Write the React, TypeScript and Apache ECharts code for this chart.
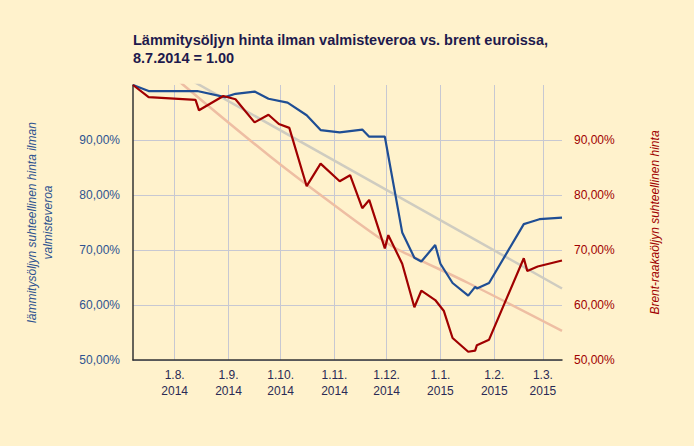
import React, { useEffect, useRef } from "react";
import * as echarts from "echarts";

const TITLE = "Lämmitysöljyn hinta ilman valmisteveroa vs. brent euroissa,\n8.7.2014 = 1.00";
const LEFT_NAME = "lämmitysöljyn suhteellinen hinta ilman\nvalmisteveroa";
const RIGHT_NAME = "Brent-raakaöljyn suhteellinen hinta";

const X_MIN = "2014-07-08";
const X_MAX = "2015-03-12";

const heatingDates = [
  "2014-07-08", "2014-07-17", "2014-08-14", "2014-08-30", "2014-09-05", "2014-09-16",
  "2014-09-24", "2014-10-05", "2014-10-16", "2014-10-24", "2014-11-04", "2014-11-17",
  "2014-11-21", "2014-11-30", "2014-12-10", "2014-12-17", "2014-12-21", "2014-12-29",
  "2015-01-01", "2015-01-08", "2015-01-17", "2015-01-21", "2015-01-22", "2015-01-29",
  "2015-02-18", "2015-02-21", "2015-02-27", "2015-03-12",
];
const heatingValues = [
  1.0, 0.989, 0.989, 0.978, 0.984, 0.988,
  0.975, 0.968, 0.945, 0.918, 0.914, 0.919,
  0.906, 0.906, 0.732, 0.686, 0.679, 0.709,
  0.675, 0.64, 0.617, 0.633, 0.63, 0.64,
  0.747, 0.75, 0.756, 0.759,
];

const brentDates = [
  "2014-07-08", "2014-07-17", "2014-08-13", "2014-08-15", "2014-08-29", "2014-09-05",
  "2014-09-16", "2014-09-24", "2014-09-30", "2014-10-06", "2014-10-16", "2014-10-24",
  "2014-11-04", "2014-11-10", "2014-11-17", "2014-11-21", "2014-11-30", "2014-12-02",
  "2014-12-10", "2014-12-17", "2014-12-21", "2014-12-29", "2015-01-03", "2015-01-08",
  "2015-01-17", "2015-01-21", "2015-01-22", "2015-01-29", "2015-02-18", "2015-02-20",
  "2015-02-26", "2015-03-12",
];
const brentValues = [
  1.0, 0.978, 0.973, 0.954, 0.98, 0.974,
  0.932, 0.946, 0.929, 0.922, 0.816, 0.857,
  0.825, 0.836, 0.776, 0.791, 0.703, 0.727,
  0.675, 0.596, 0.626, 0.609, 0.589, 0.54,
  0.515, 0.517, 0.527, 0.537, 0.685, 0.662,
  0.67, 0.681,
];

const heatingTrendDates = ["2014-07-08", "2015-03-12"];
const heatingTrendValues = [1.068, 0.63];

const brentTrendDates = [
  "2014-07-08", "2014-08-06", "2014-09-25", "2014-10-30", "2014-12-03", "2014-12-16",
  "2015-01-17", "2015-03-12",
];
const brentTrendValues = [1.08, 1.0, 0.87, 0.786, 0.709, 0.688, 0.64, 0.553];

const Y_TICKS_MIN = 0.5;
const Y_TICKS_MAX = 1.0;
const Y_INTERVAL = 0.1;

const FONT = "Liberation Sans, Arial, sans-serif";

function pairs(d: string[], v: number[]) {
  return d.map((x, i) => [x, v[i]]);
}

function pct(v: number) {
  return (v * 100).toFixed(2).replace(".", ",") + "%";
}

export default function App() {
  const ref = useRef<HTMLDivElement>(null);
  useEffect(() => {
    if (!ref.current) return;
    const chart = echarts.init(ref.current, undefined, { renderer: "svg" });
    chart.setOption({
      animation: false,
      backgroundColor: "#FFF2CC",
      textStyle: { fontFamily: FONT },
      title: {
        text: TITLE,
        left: 128,
        top: 26,
        textStyle: {
          fontFamily: FONT,
          fontSize: 14.5,
          fontWeight: "bold",
          color: "#1E1A4D",
          lineHeight: 18,
        },
      },
      grid: { left: 133, right: 132, top: 85, bottom: 86, containLabel: false },
      xAxis: {
        type: "time",
        min: X_MIN,
        max: X_MAX,
        splitNumber: 8,
        axisLine: { show: true, lineStyle: { color: "#333333", width: 1.5 } },
        axisTick: { show: false },
        splitLine: {
          show: true,
          showMinLine: false,
          showMaxLine: false,
          lineStyle: { color: "#C7C8D2", width: 1 },
        },
        axisLabel: {
          showMinLabel: false,
          showMaxLabel: false,
          margin: 7,
          color: "#2A2A55",
          fontSize: 12,
          lineHeight: 16,
          fontFamily: FONT,
          formatter: (val: number) => {
            const d = new Date(val);
            return d.getDate() + "." + (d.getMonth() + 1) + ".\n" + d.getFullYear();
          },
        },
      },
      yAxis: [
        {
          type: "value",
          min: Y_TICKS_MIN,
          max: Y_TICKS_MAX,
          interval: Y_INTERVAL,
          position: "left",
          name: LEFT_NAME,
          nameLocation: "middle",
          nameRotate: 90,
          nameGap: 77,
          nameTextStyle: {
            fontFamily: FONT,
            fontStyle: "italic",
            fontSize: 12,
            color: "#2E5290",
            lineHeight: 16,
          },
          axisLine: { show: true, lineStyle: { color: "#333333", width: 1.5 } },
          axisTick: { show: false },
          splitLine: {
            show: true,
            showMaxLine: false,
            lineStyle: { color: "#C7C8D2", width: 1 },
          },
          axisLabel: {
            showMaxLabel: false,
            margin: 13,
            color: "#2E5290",
            fontSize: 12,
            fontFamily: FONT,
            formatter: pct,
          },
        },
        {
          type: "value",
          min: Y_TICKS_MIN,
          max: Y_TICKS_MAX,
          interval: Y_INTERVAL,
          position: "right",
          name: RIGHT_NAME,
          nameLocation: "middle",
          nameRotate: 90,
          nameGap: 87,
          nameTextStyle: {
            fontFamily: FONT,
            fontStyle: "italic",
            fontSize: 12,
            color: "#A00000",
          },
          axisLine: { show: false },
          axisTick: { show: false },
          splitLine: { show: false },
          axisLabel: {
            showMaxLabel: false,
            margin: 12,
            color: "#A00000",
            fontSize: 12,
            fontFamily: FONT,
            formatter: pct,
          },
        },
      ],
      series: [
        {
          type: "line",
          yAxisIndex: 0,
          data: pairs(heatingTrendDates, heatingTrendValues),
          symbol: "none",
          lineStyle: { color: "#CFCCC0", width: 2.5 },
          z: 1,
        },
        {
          type: "line",
          yAxisIndex: 1,
          data: pairs(brentTrendDates, brentTrendValues),
          symbol: "none",
          smooth: 0.4,
          lineStyle: { color: "#EEBEA3", width: 2.5 },
          z: 1,
        },
        {
          type: "line",
          yAxisIndex: 0,
          data: pairs(heatingDates, heatingValues),
          symbol: "none",
          lineStyle: { color: "#1F4E94", width: 2.2 },
          z: 3,
        },
        {
          type: "line",
          yAxisIndex: 1,
          data: pairs(brentDates, brentValues),
          symbol: "none",
          lineStyle: { color: "#A00000", width: 2.2 },
          z: 3,
        },
      ],
    });
    return () => chart.dispose();
  }, []);
  return (
    <div
      ref={ref}
      style={{ position: "fixed", left: 0, top: 0, width: 694, height: 446 }}
    />
  );
}
